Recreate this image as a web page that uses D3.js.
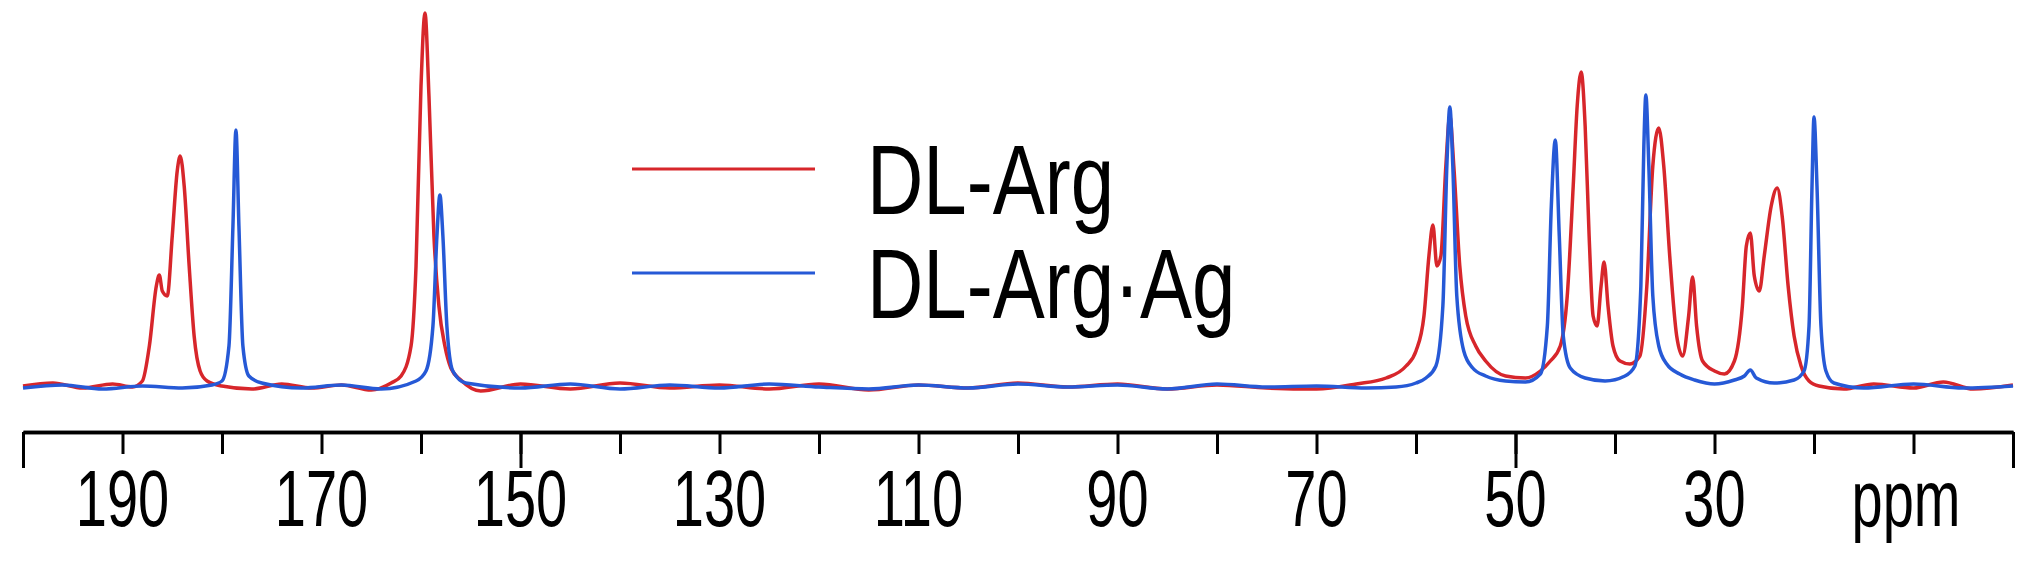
<!DOCTYPE html>
<html><head><meta charset="utf-8">
<script src="https://cdn.jsdelivr.net/npm/d3@7"></script>
<style>body{margin:0;background:#fff}text{font-family:"Liberation Sans",Arial,sans-serif;fill:#000}</style>
</head><body><svg id="c" width="2036" height="583"></svg>
<script>
// ppm, intensity
let red = [[200,0],[197,3],[194,-2],[191,2],[189,-1],[188,5],[187.3,40],[186.6,100],[186.3,111],[186.0,95],[185.5,90],[185.0,150],[184.5,215],[184.2,230],[183.8,200],[183.3,120],[182.8,50],[182.2,15],[181.5,5],[180,0],[177,-3],[174,2],[171,-2],[168,1],[165,-4],[163,3],[162,10],[161,40],[160.5,120],[160.0,300],[159.6,373],[159.2,290],[158.7,150],[158.2,80],[157.6,40],[157,18],[156,6],[154,-5],[150,2],[145,-3],[140,3],[135,-2],[130,1],[125,-3],[120,2],[115,-4],[110,1],[105,-2],[100,3],[95,-1],[90,2],[85,-3],[80,1],[75,-2],[70,-3],[66,2],[63,8],[61,20],[60,35],[59.2,70],[58.7,130],[58.3,161],[57.9,120],[57.5,130],[57.0,220],[56.6,270],[56.2,220],[55.6,120],[55,70],[54,40],[53,25],[51,10],[49,8],[47.5,15],[46.5,25],[45.5,40],[44.8,90],[44.2,200],[43.8,280],[43.4,314],[43.0,260],[42.6,150],[42.2,70],[41.8,60],[41.4,100],[41.1,124],[40.7,80],[40.2,40],[39.5,25],[38.5,22],[37.5,30],[36.8,100],[36.2,220],[35.6,258],[35.1,220],[34.5,130],[33.8,50],[33.2,30],[32.6,70],[32.2,109],[31.8,60],[31.2,25],[30,15],[29,12],[28,25],[27.2,80],[26.8,140],[26.4,153],[26.0,110],[25.5,95],[25,130],[24.3,180],[23.7,198],[23.2,170],[22.6,100],[22,50],[21.3,20],[20.5,5],[19.5,0],[17,-3],[14,2],[10,-2],[7,4],[4,-3],[0,1]];
let blue = [[200,-2],[196,1],[192,-3],[188,0],[184,-2],[181,1],[180,5],[179.3,40],[178.9,160],[178.6,256],[178.3,160],[177.9,40],[177.3,10],[176,3],[172,-2],[168,1],[164,-3],[160.5,5],[159.5,15],[158.8,60],[158.4,150],[158.1,191],[157.8,150],[157.4,60],[156.8,15],[155.5,3],[150,-2],[145,2],[140,-3],[135,1],[130,-2],[125,2],[120,-1],[115,-3],[110,1],[105,-2],[100,2],[95,-1],[90,1],[85,-3],[80,2],[75,-1],[70,0],[65,-2],[62,-1],[60,3],[59,8],[58,20],[57.3,80],[56.9,220],[56.6,279],[56.3,220],[55.9,90],[55.2,35],[54.3,18],[53,10],[51,5],[49,4],[47.5,12],[46.8,60],[46.4,180],[46.0,246],[45.6,150],[45.2,50],[44.5,18],[43,8],[41,5],[39,10],[38,20],[37.4,100],[37.1,240],[36.9,291],[36.6,220],[36.2,90],[35.6,40],[34.8,22],[33.5,12],[32,6],[30,2],[28,6],[27,10],[26.4,16],[25.8,8],[24,3],[22,6],[21,15],[20.5,60],[20.2,200],[20.0,269],[19.7,200],[19.3,60],[18.8,15],[18,3],[15,-2],[10,2],[5,-2],[0,0]];
let tickLabels = [190,170,150,130,110,90,70,50,30];
let minorTicks = d3.range(0,201,10);
let majorTicks = [200,150,50,0];
let legend = [{name:'DL-Arg',color:'#d7262b',data:red},{name:'DL-Arg·Ag',color:'#2659d6',data:blue}];

let svg = d3.select('#c');
let x = d3.scaleLinear().domain([200,0]).range([23,2013]);
let y = d3.scaleLinear().domain([0,373]).range([386,13]);
let line = d3.line().x(d => x(d[0])).y(d => y(d[1])).curve(d3.curveMonotoneX);

legend.forEach(s => {
    svg.append('path').datum(s.data).attr('d',line)
        .attr('fill','none').attr('stroke',s.color).attr('stroke-width',3.5).attr('stroke-linejoin','round');
});

let axisY = 432;
let gMinor = svg.append('g').attr('transform','translate(0,'+axisY+')')
    .call(d3.axisBottom(x).tickValues(minorTicks).tickSize(22).tickSizeOuter(0).tickFormat(''));
let gMajor = svg.append('g').attr('transform','translate(0,'+axisY+')')
    .call(d3.axisBottom(x).tickValues(majorTicks).tickSize(36).tickSizeOuter(0).tickFormat(''));
[gMinor,gMajor].forEach(g => {
    g.selectAll('line').attr('stroke','#000').attr('stroke-width',3);
    g.select('.domain').attr('stroke','#000').attr('stroke-width',3.5);
});

tickLabels.forEach(t => {
    svg.append('text').attr('text-anchor','middle')
        .attr('transform','translate('+x(t)+',526) scale(1,1.42)')
        .style('font-size','56px').text(t);
});
svg.append('text').attr('text-anchor','middle')
    .attr('transform','translate(1906,526) scale(1,1.42)')
    .style('font-size','56px').text('ppm');

legend.forEach((s,i) => {
    let ly = [169,273][i];
    svg.append('line').attr('x1',632).attr('x2',815).attr('y1',ly).attr('y2',ly)
        .attr('stroke',s.color).attr('stroke-width',3);
    svg.append('text').attr('transform','translate(867,'+(ly+45)+') scale(1,1.27)')
        .style('font-size','78px').text(s.name);
});
</script></body></html>
